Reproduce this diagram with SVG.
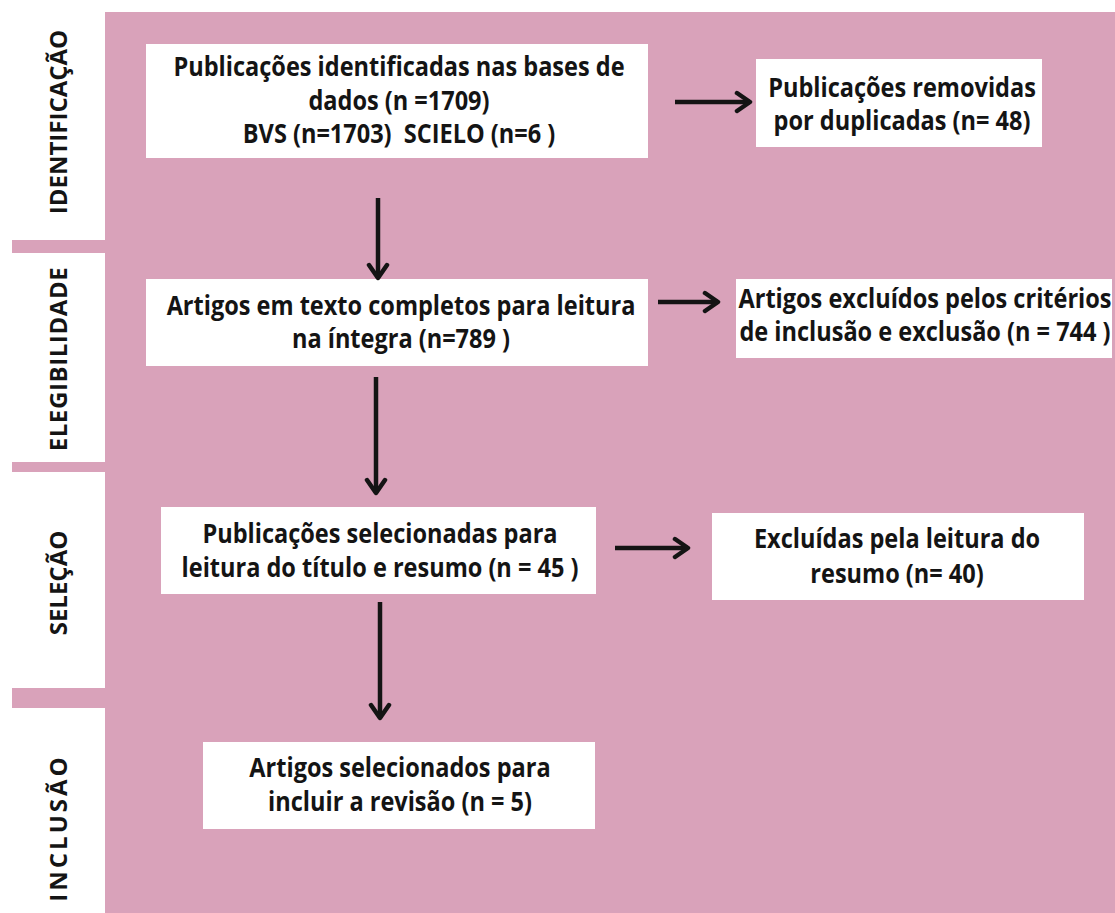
<svg xmlns="http://www.w3.org/2000/svg" width="1115" height="913" viewBox="0 0 1115 913">
<style>
.bg{fill:#d9a2ba}
.box{fill:#ffffff}
.t{font-family:"Open Sans","Liberation Sans",sans-serif;font-weight:700;font-size:26px;fill:#141414;text-anchor:middle}
.side{font-size:24px}
.conn line{stroke:#141414;stroke-width:4.5;marker-end:url(#ah)}
</style>
<defs>
<marker id="ah" markerUnits="userSpaceOnUse" viewBox="-16 -12 20 24" refX="0" refY="0" markerWidth="20" markerHeight="24" orient="auto">
<path d="M-13,-9 L0,0 L-13,9" fill="none" stroke="#141414" stroke-width="4.5" stroke-linecap="round" stroke-linejoin="round"/>
</marker>
</defs>
<rect x="0" y="0" width="1115" height="913" fill="#ffffff"/>
<rect class="bg" x="105" y="12" width="1010" height="901"/>
<rect class="bg" x="12" y="240" width="93" height="13"/>
<rect class="bg" x="12" y="462" width="93" height="10"/>
<rect class="bg" x="12" y="688" width="93" height="20"/>

<g id="stage-identificacao"><text class="t side" transform="translate(67,122) rotate(-90)">IDENTIFICAÇÃO</text></g>
<g id="stage-elegibilidade"><text class="t side" transform="translate(67,359) rotate(-90)" letter-spacing="0.6">ELEGIBILIDADE</text></g>
<g id="stage-selecao"><text class="t side" transform="translate(67,583) rotate(-90)">SELEÇÃO</text></g>
<g id="stage-inclusao"><text class="t side" transform="translate(67,828) rotate(-90)" letter-spacing="3">INCLUSÃO</text></g>

<g id="n1">
<rect class="box" x="146" y="44" width="502" height="114"/>
<text class="t" transform="translate(399,0) scale(0.905,1)"><tspan x="0" y="76">Publicações identificadas nas bases de</tspan><tspan x="0" y="110">dados (n =1709)</tspan><tspan x="0" y="143">BVS (n=1703)&#160; SCIELO (n=6 )</tspan></text>
</g>
<g id="n2">
<rect class="box" x="756" y="59" width="286" height="88"/>
<text class="t" transform="translate(902,0) scale(0.905,1)"><tspan x="0" y="97">Publicações removidas</tspan><tspan x="0" y="130">por duplicadas (n= 48)</tspan></text>
</g>
<g id="n3">
<rect class="box" x="146" y="279" width="502" height="87"/>
<text class="t" transform="translate(401,0) scale(0.905,1)"><tspan x="0" y="315">Artigos em texto completos para leitura</tspan><tspan x="0" y="348">na íntegra (n=789 )</tspan></text>
</g>
<g id="n4">
<rect class="box" x="736" y="279" width="376" height="79"/>
<text class="t" transform="translate(925,0) scale(0.905,1)"><tspan x="0" y="308">Artigos excluídos pelos critérios</tspan><tspan x="0" y="341">de inclusão e exclusão (n = 744 )</tspan></text>
</g>
<g id="n5">
<rect class="box" x="161" y="507" width="435" height="87"/>
<text class="t" transform="translate(380,0) scale(0.905,1)"><tspan x="0" y="543">Publicações selecionadas para</tspan><tspan x="0" y="577">leitura do título e resumo (n = 45 )</tspan></text>
</g>
<g id="n6">
<rect class="box" x="712" y="513" width="372" height="87"/>
<text class="t" transform="translate(897,0) scale(0.905,1)"><tspan x="0" y="548">Excluídas pela leitura do</tspan><tspan x="0" y="583">resumo (n= 40)</tspan></text>
</g>
<g id="n7">
<rect class="box" x="203" y="742" width="392" height="87"/>
<text class="t" transform="translate(400,0) scale(0.905,1)"><tspan x="0" y="777">Artigos selecionados para</tspan><tspan x="0" y="811">incluir a revisão (n = 5)</tspan></text>
</g>

<g id="connectors" class="conn">
<line x1="675" y1="102" x2="750" y2="102"/>
<line x1="378" y1="198" x2="378" y2="278"/>
<line x1="658" y1="302" x2="718" y2="302"/>
<line x1="376" y1="377" x2="376" y2="493"/>
<line x1="615" y1="548" x2="688" y2="548"/>
<line x1="380" y1="602" x2="380" y2="718"/>
</g>
</svg>
